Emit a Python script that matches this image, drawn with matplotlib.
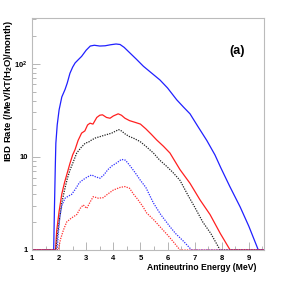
import matplotlib
matplotlib.use("Agg")
import matplotlib.pyplot as plt
from matplotlib.ticker import FixedLocator, MultipleLocator, NullFormatter
import numpy as np

plt.rcParams['font.family'] = ['Liberation Sans', 'DejaVu Sans']
plt.rcParams['mathtext.fontset'] = 'custom'
plt.rcParams['mathtext.rm'] = 'Liberation Sans:bold'
plt.rcParams['mathtext.bf'] = 'Liberation Sans:bold'

# blue solid (total)
e_blue = [1.0, 1.80, 1.83, 1.86, 1.88, 1.93, 2.0, 2.1, 2.22, 2.3, 2.4, 2.5, 2.59, 2.7,
          2.83, 3.0, 3.15, 3.3, 3.5, 3.7, 3.9, 4.1, 4.25, 4.4, 4.62, 4.85, 5.11, 5.4,
          5.72, 6.0, 6.34, 6.6, 6.83, 7.13, 7.45, 7.75, 7.97, 8.3, 8.68, 9.0, 9.35, 9.6]
r_blue = [1, 1, 3, 8, 14, 22, 32, 44, 53, 62, 79, 92, 102, 110,
          120, 140, 155, 158, 155, 156, 160, 163, 161, 150, 130, 112, 94, 80,
          67, 55, 41, 34, 29, 21, 15, 10.5, 7.6, 4.8, 2.9, 1.8, 1.0, 1.0]

# red solid
e_red = [1.0, 1.87, 1.91, 2.0, 2.1, 2.2, 2.28, 2.4, 2.5, 2.59, 2.7, 2.83, 2.95, 3.05,
         3.14, 3.25, 3.39, 3.5, 3.6, 3.75, 3.88, 4.0, 4.18, 4.3, 4.43, 4.6, 4.8, 5.0,
         5.2, 5.4, 5.6, 5.85, 6.09, 6.46, 6.83, 7.2, 7.57, 7.95, 8.31, 9.6]
r_red = [1, 1, 1.6, 2.6, 4.0, 5.3, 6.4, 8.5, 10.5, 12, 15, 18, 19, 22,
         23, 22.5, 26.5, 28, 28.3, 26.5, 26, 27.5, 29, 28, 26, 24.5, 23.5, 22.5,
         20, 17.5, 15.2, 13, 11, 7.3, 5.2, 3.45, 2.4, 1.5, 1.0, 1.0]

# black dotted
e_blk = [1.0, 1.88, 1.93, 2.0, 2.1, 2.2, 2.3, 2.4, 2.5, 2.65, 2.8, 2.96, 3.1, 3.2,
         3.35, 3.51, 3.65, 3.8, 3.94, 4.1, 4.2, 4.3, 4.45, 4.6, 4.74, 4.99, 5.2, 5.48,
         5.7, 5.97, 6.2, 6.46, 6.77, 7.0, 7.3, 7.6, 7.94, 9.6]
r_blk = [1, 1, 1.4, 2.0, 3.2, 4.4, 5.8, 7.2, 8.5, 11, 12.5, 14, 14.5, 15.2,
         16, 16.5, 17, 17.5, 18, 19, 19.6, 19, 17.5, 16.5, 15.9, 14.6, 13, 11,
         9.3, 7.9, 6.8, 5.6, 3.8, 2.9, 2.0, 1.5, 1.0, 1.0]

# blue dotted
e_bdot = [1.0, 1.93, 1.97, 2.03, 2.1, 2.22, 2.35, 2.46, 2.6, 2.75, 2.89, 3.05, 3.2,
          3.35, 3.51, 3.65, 3.8, 3.95, 4.12, 4.3, 4.45, 4.62, 4.8, 5.0, 5.2, 5.48,
          5.75, 6.09, 6.3, 6.58, 6.89, 9.6]
r_bdot = [1, 1, 1.5, 2.3, 3.0, 3.6, 3.8, 3.95, 4.5, 5.3, 5.7, 6.1, 6.4,
          6.1, 5.9, 6.4, 7.3, 8.0, 8.6, 9.4, 9.2, 8.0, 6.8, 5.6, 4.7, 3.2,
          2.4, 1.78, 1.5, 1.25, 1.0, 1.0]

# red dotted
e_rdot = [1.0, 1.97, 2.05, 2.16, 2.28, 2.45, 2.65, 2.78, 2.89, 3.02, 3.15, 3.26, 3.45,
          3.63, 3.8, 4.0, 4.25, 4.43, 4.6, 4.74, 4.9, 5.1, 5.23, 5.5, 5.72, 6.0,
          6.21, 6.46, 9.6]
r_rdot = [1, 1, 1.3, 1.64, 2.0, 2.2, 2.4, 2.8, 3.05, 2.8, 3.3, 3.74, 3.6,
          3.65, 4.0, 4.4, 4.7, 4.8, 4.6, 4.0, 3.5, 2.9, 2.5, 2.1, 1.78, 1.45,
          1.23, 1.0, 1.0]

fig = plt.figure(figsize=(2.9, 2.95), dpi=100)
ax = fig.add_axes([32/290, 45/295, 232/290, 232/295])

dot = (0, (1, 1))
ax.plot(e_blue, r_blue, color='#2020ff', lw=0.9)
ax.plot(e_red, r_red, color='#ff2020', lw=0.9)
ax.plot(e_blk, r_blk, color='#222222', lw=0.9, ls=dot)
ax.plot(e_bdot, r_bdot, color='#3030ff', lw=0.9, ls=dot)
ax.plot(e_rdot, r_rdot, color='#ff3030', lw=0.9, ls=dot)

ax.set_yscale('log')
ax.set_xlim(1, 9.56)
ax.set_ylim(1, 310)

ax.xaxis.set_major_locator(MultipleLocator(1))
ax.xaxis.set_minor_locator(MultipleLocator(0.5))
ax.yaxis.set_major_locator(FixedLocator([1, 10, 100]))
ax.yaxis.set_minor_locator(FixedLocator([k * d for d in (1, 10, 100) for k in range(2, 10)]))
ax.yaxis.set_minor_formatter(NullFormatter())
ax.set_yticklabels(['1', '10', r'$\mathbf{10^{2}}$'])

ax.tick_params(which='both', direction='in', color='#aaaaaa', width=0.6)
ax.tick_params(which='major', length=6)
ax.tick_params(which='minor', length=3)
ax.tick_params(axis='y', labelsize=5.5, pad=3)
ax.tick_params(axis='x', labelbottom=False)
for lab in ax.get_yticklabels():
    lab.set_fontweight('bold')
for xv in range(1, 10):
    ax.text(xv, -5/232, str(xv), transform=ax.get_xaxis_transform(), ha='center',
            va='top', fontsize=5.5, fontweight='bold')

for sp in ax.spines.values():
    sp.set_color('#bbbbbb')
    sp.set_linewidth(0.8)

fig.text(9/290, 1 - 20/295, r'IBD Rate (/MeV/kT(H$_2$O)/month)', rotation=90,
         ha='center', va='top', fontsize=6.8, fontweight='bold')
fig.text(256/290, 1 - 268/295, 'Antineutrino Energy (MeV)', ha='right', va='center',
         fontsize=6.2, fontweight='bold')
fig.text(237/290, 1 - 51/295, '(a)', ha='center', va='center', fontsize=9,
         fontweight='bold')

fig.savefig('out.png', dpi=100)
plt.close()
